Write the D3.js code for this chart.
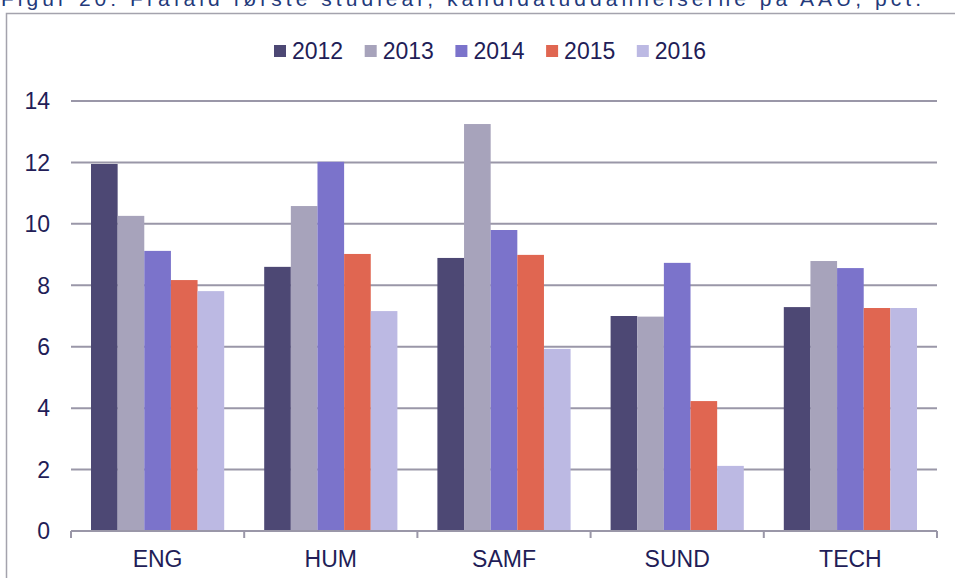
<!DOCTYPE html>
<html>
<head>
<meta charset="utf-8">
<script src="https://cdn.jsdelivr.net/npm/d3@7"></script>
<style>
  body { margin: 0; background: #fff; }
  svg { display: block; font-family: "Liberation Sans", Arial, sans-serif; }
</style>
</head>
<body>
<svg id="chart" width="955" height="578"></svg>
<script>
// Chart data
const categories = ["ENG", "HUM", "SAMF", "SUND", "TECH"];
const years = ["2012", "2013", "2014", "2015", "2016"];
const values2012 = [11.95, 8.6, 8.89, 7.0, 7.29];
const values2013 = [10.26, 10.58, 13.25, 6.98, 8.79];
const values2014 = [9.12, 12.02, 9.8, 8.73, 8.56];
const values2015 = [8.17, 9.02, 8.99, 4.23, 7.26];
const values2016 = [7.81, 7.16, 5.93, 2.12, 7.26];
const yTicks = [0, 2, 4, 6, 8, 10, 12, 14];
const titleText = "Figur 20: Frafald første studieår, kandidatuddannelserne på AAU, pct.";

const series = [values2012, values2013, values2014, values2015, values2016];
const colors = ["#4d4874", "#a7a3bb", "#7b73cb", "#e06651", "#bcb9e3"];
const textColor = "#221d57";
const gridColor = "#9a97a8";

const svg = d3.select("#chart");

// Title, cut off at the top like the reference
svg.append("text")
  .attr("x", 1)
  .attr("y", 6)
  .attr("font-size", 21)
  .attr("fill", "#23397a")
  .attr("textLength", 920)
  .attr("lengthAdjust", "spacing")
  .text(titleText);

// Frame
svg.append("path")
  .attr("d", "M6.5,578 V13.5 H955")
  .attr("fill", "none")
  .attr("stroke", "#a4a3ad")
  .attr("stroke-width", 1.5);

// Scales
const x = d3.scaleBand().domain(categories).range([71, 937]);
const xInner = d3.scaleBand().domain(years).range([20, x.bandwidth() - 20]);
const y = d3.scaleLinear().domain([0, 14]).range([531, 101]);

// Grid lines
svg.append("g")
  .selectAll("line")
  .data(yTicks.filter(d => d > 0))
  .join("line")
  .attr("x1", 71)
  .attr("x2", 937)
  .attr("y1", d => y(d))
  .attr("y2", d => y(d))
  .attr("stroke", gridColor)
  .attr("stroke-width", 2);

// Bars
const rows = categories.map((c, i) => ({ cat: c, vals: series.map(s => s[i]) }));
svg.append("g")
  .selectAll("g")
  .data(rows)
  .join("g")
  .attr("transform", d => `translate(${x(d.cat)},0)`)
  .selectAll("rect")
  .data(d => d.vals.map((v, j) => ({ year: years[j], v, j })))
  .join("rect")
  .attr("x", d => xInner(d.year))
  .attr("width", xInner.bandwidth())
  .attr("y", d => y(d.v))
  .attr("height", d => y(0) - y(d.v))
  .attr("fill", d => colors[d.j]);

// Y axis labels
svg.append("g")
  .selectAll("text")
  .data(yTicks)
  .join("text")
  .attr("x", 50)
  .attr("y", d => y(d))
  .attr("dy", "0.36em")
  .attr("text-anchor", "end")
  .attr("font-size", 23)
  .attr("fill", textColor)
  .text(d => d);

// X axis with ticks between categories
const xAxis = svg.append("g");
xAxis.append("line")
  .attr("x1", 71).attr("x2", 937)
  .attr("y1", y(0)).attr("y2", y(0))
  .attr("stroke", gridColor).attr("stroke-width", 2);
const boundaries = categories.map(c => x(c)).concat([x(categories[categories.length - 1]) + x.bandwidth()]);
xAxis.selectAll(".tick")
  .data(boundaries)
  .join("line")
  .attr("x1", d => d).attr("x2", d => d)
  .attr("y1", y(0)).attr("y2", y(0) + 7)
  .attr("stroke", gridColor).attr("stroke-width", 2);
xAxis.selectAll("text")
  .data(categories)
  .join("text")
  .attr("x", d => x(d) + x.bandwidth() / 2)
  .attr("y", 567)
  .attr("text-anchor", "middle")
  .attr("font-size", 23)
  .attr("fill", textColor)
  .text(d => d);

// Legend
const legend = svg.append("g")
  .selectAll("g")
  .data(years)
  .join("g")
  .attr("transform", (d, i) => `translate(${274 + i * 90.7},45)`);
legend.append("rect")
  .attr("width", 12).attr("height", 12)
  .attr("fill", (d, i) => colors[i]);
legend.append("text")
  .attr("x", 18)
  .attr("y", 13.5)
  .attr("font-size", 23)
  .attr("fill", textColor)
  .text(d => d);
</script>
</body>
</html>
